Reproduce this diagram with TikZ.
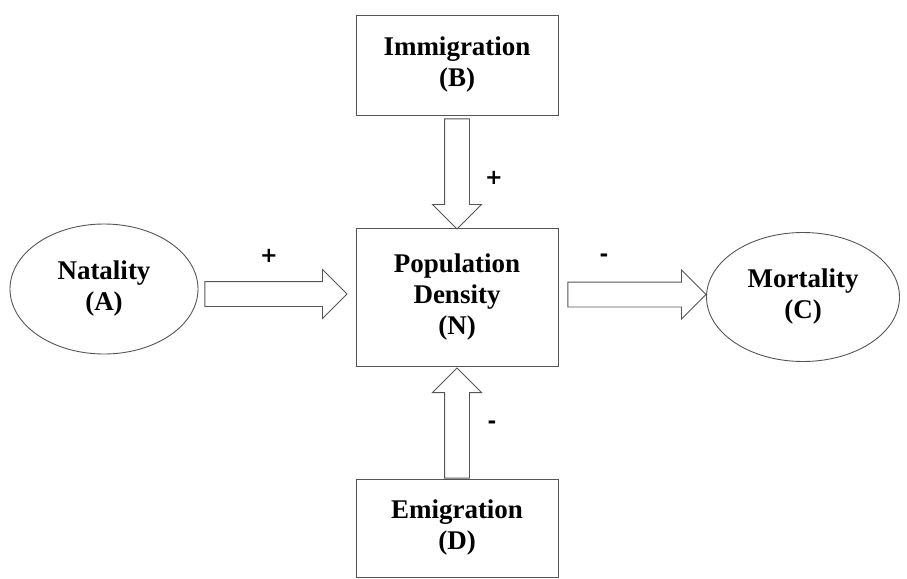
\documentclass[tikz,border=0pt]{standalone}
\usepackage{fontspec}
\setmainfont{Liberation Serif}
\newfontfamily\signfont{DejaVu Sans}
\usetikzlibrary{shapes.geometric,shapes.arrows,positioning}
\definecolor{edge}{RGB}{85,85,85}
\tikzset{
	blob/.style={ellipse, draw=edge, line width=0.9pt, align=center, inner sep=0pt,
		font=\bfseries\fontsize{27}{31}\selectfont},
	box/.style={rectangle, draw=edge, line width=0.9pt, align=center, inner sep=0pt,
		minimum width=202pt, font=\bfseries\fontsize{27}{31}\selectfont},
	fat/.style={single arrow, draw=edge, line width=0.9pt, inner sep=12pt,
		single arrow head extend=12pt, anchor=tail},
	sign/.style={font=\signfont\bfseries\fontsize{21}{21}\selectfont, inner sep=0pt}
}

\begin{document}
\begin{tikzpicture}[x=1pt,y=-1pt]
	\useasboundingbox (0,0) rectangle (907,578);

	% the four causes round the density box
	\node[box, minimum height=138pt] (pop) at (457,297) {Population\\Density\\(N)};
	\node[box, minimum height=100pt] (imm) at (457,65) {Immigration\\(B)};
	\node[box, minimum height=98pt] (emi) at (457,528) {Emigration\\(D)};
	\node[blob, minimum width=188pt, minimum height=130pt] (nat) at (104,289) {Natality\\(A)};
	\node[blob, minimum width=193pt, minimum height=129pt] (mor) at (803,297) {Mortality\\(C)};

	% hollow block arrows
	\node[fat, minimum height=142pt] (aAN) at ([xshift=6pt,yshift=-5pt]nat.east) {};
	\node[fat, minimum height=138pt] (aNC) at ([xshift=9pt,yshift=2.5pt]pop.east) {};
	\node[fat, shape border rotate=270, minimum height=110pt] (aBN) at ([yshift=-3pt]imm.south) {};
	\node[fat, shape border rotate=90, minimum height=110pt] (aDN) at (emi.north) {};

	% signs
	\node[sign] (sA) at (269,256) {+};
	\node[sign] (sB) at (494,178) {+};
	\node[sign] (sC) at (604,258) {-};
	\node[sign] (sD) at (492,425) {-};
\end{tikzpicture}
\end{document}
